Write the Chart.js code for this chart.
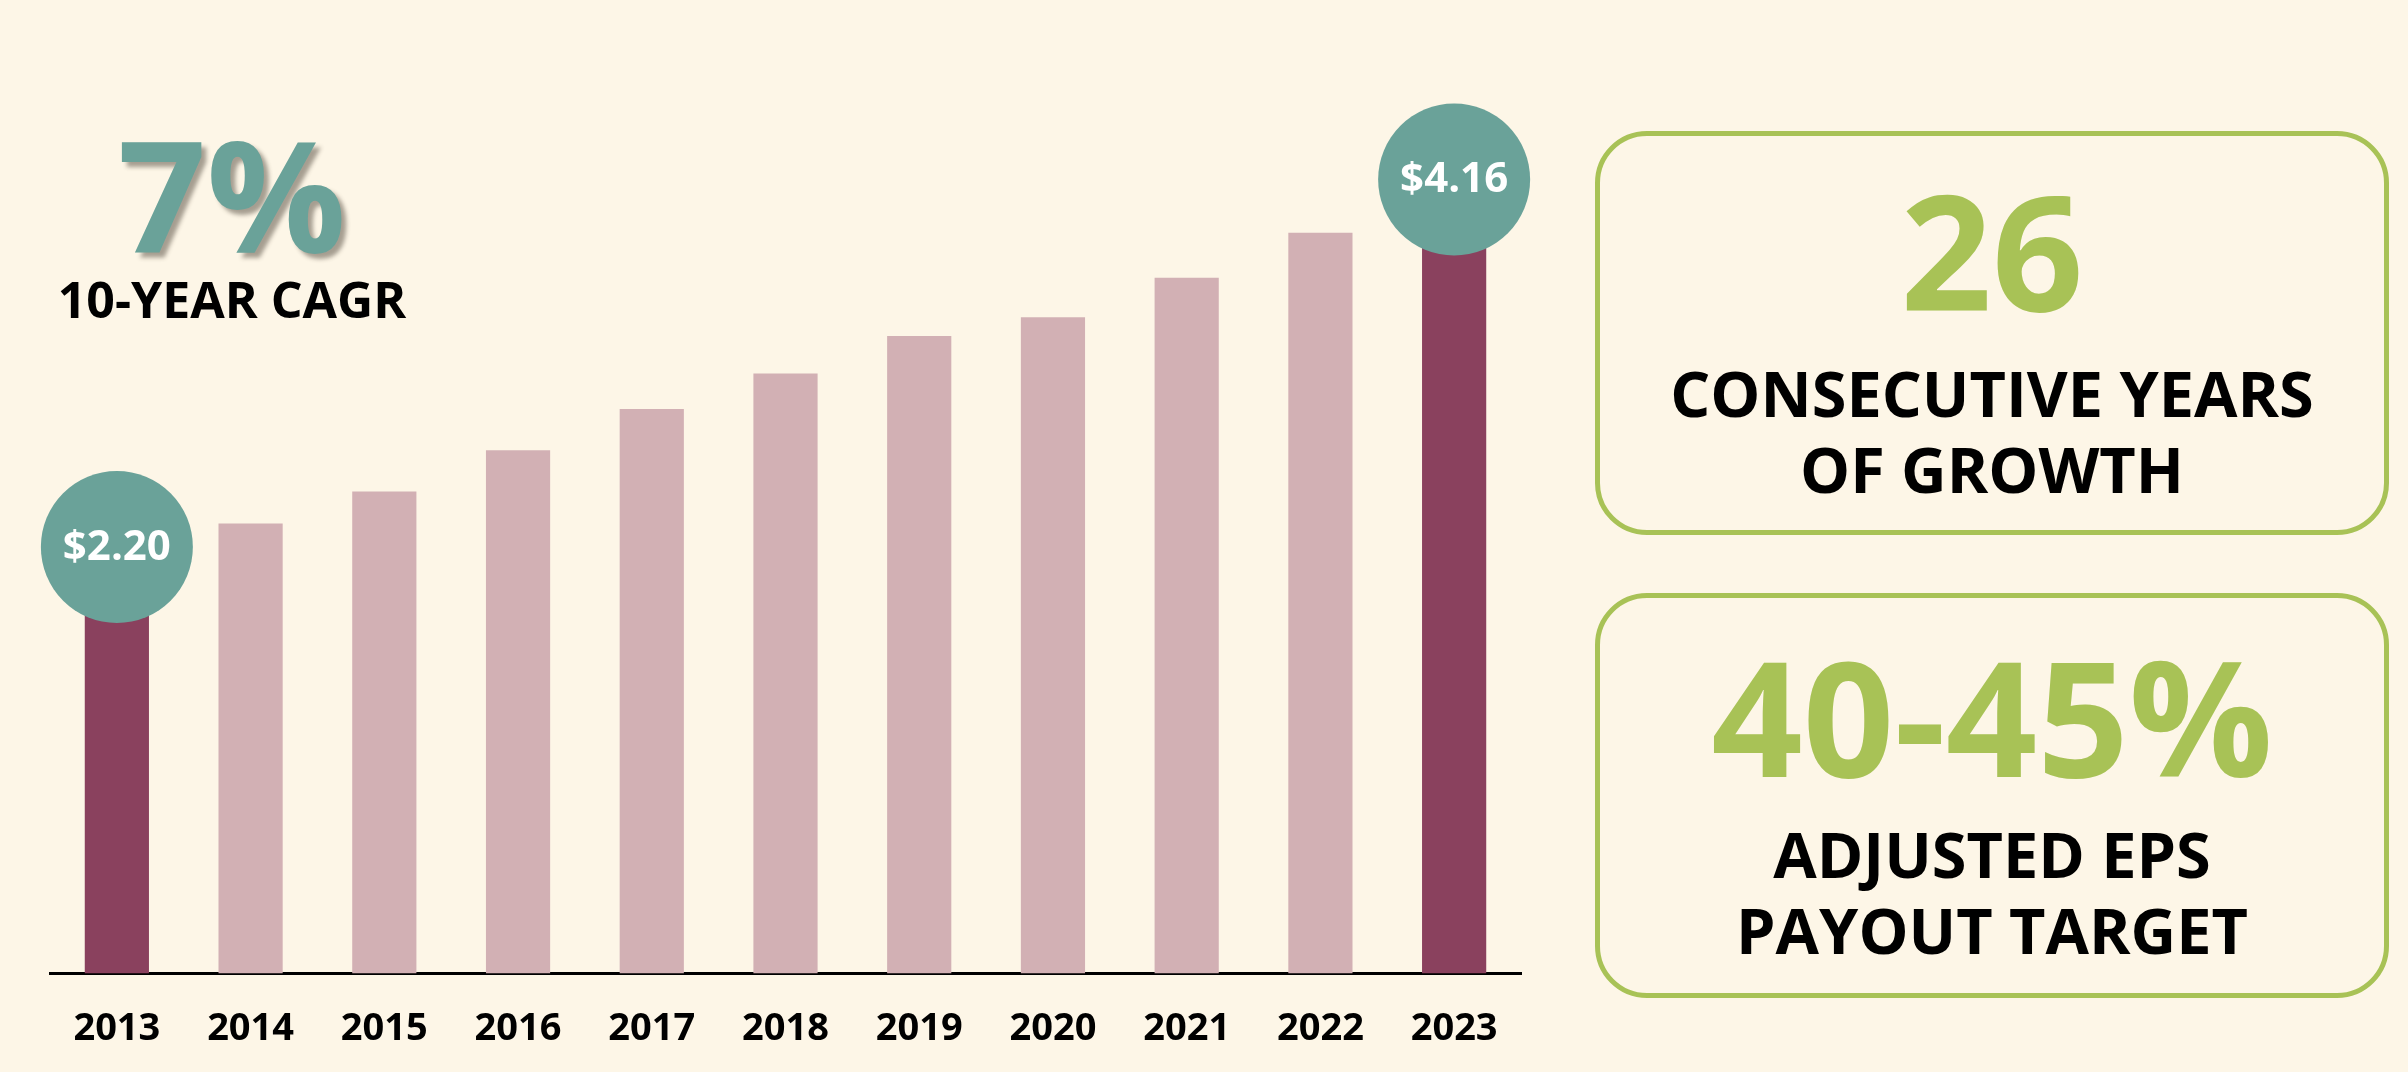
<!DOCTYPE html>
<html>
<head>
<meta charset="utf-8">
<script src="https://cdn.jsdelivr.net/npm/chart.js@4.4.1/dist/chart.umd.min.js"></script>
<style>
  html, body { margin: 0; padding: 0; }
  body {
    width: 2408px; height: 1072px; overflow: hidden; position: relative;
    background: #fdf6e7;
    font-family: "Open Sans", "DejaVu Sans", sans-serif;
    font-weight: 700;
  }
  #chartWrap { position: absolute; left: 0; top: 0; }
  .txt { position: absolute; text-align: center; white-space: nowrap; }
  .big7 {
    left: 32px; width: 400px; top: 115px;
    font-size: 155px; line-height: 1; color: #6aa299;
    text-shadow: 5px 5px 4px rgba(60, 50, 40, 0.45);
  }
  .cagr { left: 32px; width: 400px; top: 274px; font-size: 50px; line-height: 1; color: #000; }
  .box {
    position: absolute; left: 1595px; width: 794px;
    box-sizing: border-box; border: 5px solid #a8c256; border-radius: 52px;
  }
  .stat { left: 0; width: 100%; font-size: 160px; line-height: 1; color: #a8c256; }
  .caption { left: 0; width: 100%; font-size: 63px; line-height: 76px; color: #000; }
</style>
</head>
<body>
<div id="chartWrap"><canvas id="dividendChart" width="1570" height="1085"></canvas></div>

<div class="txt big7">7%</div>
<div class="txt cagr">10-YEAR CAGR</div>

<div class="box" style="top:131px;height:404px;">
  <div class="txt stat" style="top:33px;">26</div>
  <div class="txt caption" style="top:219px;">CONSECUTIVE YEARS<br>OF GROWTH</div>
</div>
<div class="box" style="top:593px;height:405px;">
  <div class="txt stat" style="top:37px;">40-45%</div>
  <div class="txt caption" style="top:218px;">ADJUSTED EPS<br>PAYOUT TARGET</div>
</div>

<script>
// Dividends per share by year
const years = ['2013', '2014', '2015', '2016', '2017', '2018', '2019', '2020', '2021', '2022', '2023'];
const dividends = [2.20, 2.40, 2.57, 2.79, 3.01, 3.20, 3.40, 3.50, 3.71, 3.95, 4.16];
const highlightYears = ['2013', '2023'];

const maroon = '#8a415e';
const pink = '#d2b0b4';
const teal = '#6aa299';

const barColors = years.map(y => highlightYears.includes(y) ? maroon : pink);

// Draws the teal value bubble on top of the highlighted bars
const bubblePlugin = {
    id: 'bubbles',
    afterDatasetsDraw(chart) {
        const ctx = chart.ctx;
        const meta = chart.getDatasetMeta(0);
        years.forEach((y, i) => {
            if (!highlightYears.includes(y)) return;
            const bar = meta.data[i];
            const cx = bar.x;
            const cy = bar.y - 14;
            ctx.save();
            ctx.beginPath();
            ctx.arc(cx, cy, 76, 0, Math.PI * 2);
            ctx.fillStyle = teal;
            ctx.fill();
            ctx.fillStyle = '#ffffff';
            ctx.font = '700 42px "Open Sans"';
            ctx.textAlign = 'center';
            ctx.textBaseline = 'middle';
            ctx.fillText('$' + dividends[i].toFixed(2), cx, cy + 1);
            ctx.restore();
        });
    }
};

const ctx = document.getElementById('dividendChart').getContext('2d');
const dividendChart = new Chart(ctx, {
    type: 'bar',
    data: {
        labels: years,
        datasets: [{
            data: dividends,
            backgroundColor: barColors,
            barPercentage: 0.48,
            categoryPercentage: 1.0
        }]
    },
    options: {
        responsive: false,
        animation: false,
        layout: {
            padding: { left: 50, right: 49, top: 36, bottom: 0 }
        },
        plugins: {
            legend: { display: false },
            tooltip: { enabled: false }
        },
        scales: {
            x: {
                grid: { display: false, drawTicks: false },
                border: { display: true, color: '#000000', width: 3 },
                ticks: {
                    color: '#000000',
                    padding: 33,
                    font: { family: 'Open Sans', size: 38, weight: '700' }
                }
            },
            y: {
                display: false,
                min: 0,
                max: 5
            }
        }
    },
    plugins: [bubblePlugin]
});
</script>
</body>
</html>
